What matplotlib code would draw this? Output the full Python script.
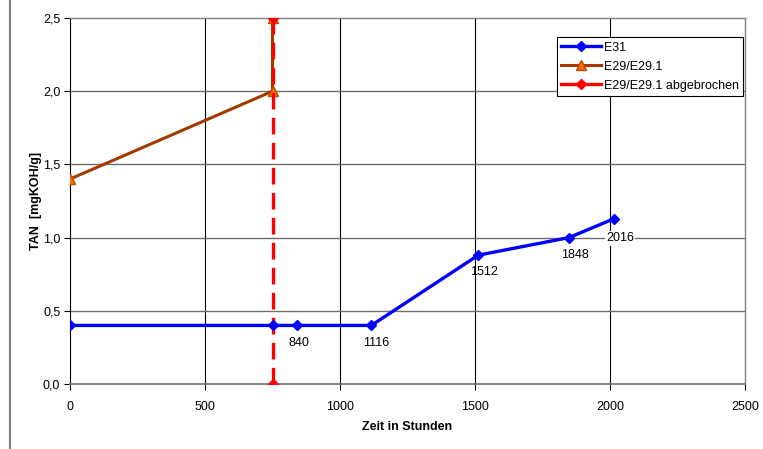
import matplotlib
matplotlib.use("Agg")
import matplotlib.pyplot as plt
from matplotlib.lines import Line2D

plt.rcParams['font.family'] = ['Liberation Sans', 'DejaVu Sans']

# Data
e31_x = [0, 750, 840, 1116, 1512, 1848, 2016]
e31_y = [0.4, 0.4, 0.4, 0.4, 0.88, 1.0, 1.13]
e29_x = [0, 750, 750]
e29_y = [1.4, 2.0, 2.5]
abg_x = [750, 750]
abg_y = [0.0, 2.5]
label_pts = [840, 1116, 1512, 1848, 2016]
x_ticks = [0, 500, 1000, 1500, 2000, 2500]
y_ticks = [0.0, 0.5, 1.0, 1.5, 2.0, 2.5]
y_ticklabels = ["0,0", "0,5", "1,0", "1,5", "2,0", "2,5"]

fig = plt.figure(figsize=(7.63, 4.49), dpi=100)
ax = fig.add_axes([70/763, 65/449, 675/763, 366/449])

ax.set_xlim(0, 2500)
ax.set_ylim(0, 2.5)
ax.set_xticks(x_ticks)
ax.set_xticklabels([str(t) for t in x_ticks])
ax.set_yticks(y_ticks)
ax.set_yticklabels(y_ticklabels)

# grid
for xt in x_ticks[1:-1]:
    ax.axvline(xt, color='black', lw=0.8, zorder=1)
for yt in y_ticks[1:-1]:
    ax.axhline(yt, color='#6e6e6e', lw=1.0, zorder=1)

for s in ['top', 'right']:
    ax.spines[s].set_color('#808080')
    ax.spines[s].set_linewidth(1.0)
ax.spines['left'].set_color('black')
ax.spines['bottom'].set_color('#6e6e6e')
ax.spines['bottom'].set_linewidth(1.2)
ax.tick_params(axis='both', direction='out', length=4, width=0.8, labelsize=9, colors='black')
ax.tick_params(axis='x', pad=8)
ax.tick_params(axis='y', pad=3)

ax.plot(e29_x, e29_y, color='#a33a00', lw=2.2, marker='^', markersize=7,
        markerfacecolor='#ff6a00', markeredgecolor='#c04a00', zorder=3,
        label='E29/E29.1')
ax.plot(abg_x, abg_y, color='#ff0000', lw=2.4, ls=(0, (5, 2.5)), marker='D', markersize=5,
        markerfacecolor='#ff0000', markeredgecolor='#ff0000', zorder=4,
        label='E29/E29.1 abgebrochen')
ax.plot(e31_x, e31_y, color='#0000ff', lw=2.4, marker='D', markersize=5,
        markerfacecolor='#0000ff', markeredgecolor='#0000ff', zorder=5,
        label='E31')

for xv, yv in zip(e31_x, e31_y):
    if xv in label_pts:
        bg = dict(facecolor='white', edgecolor='none', pad=1) if xv == 2016 else None
        ax.annotate(str(xv), (xv, yv), xytext=(-6 if xv != 2016 else -6, -8 if xv != 2016 else -10),
                    textcoords='offset points', ha='left', va='top', fontsize=9,
                    bbox=bg, zorder=6)

ax.set_xlabel('Zeit in Stunden', fontsize=9, fontweight='bold', labelpad=6)
ax.set_ylabel('TAN  [mgKOH/g]', fontsize=9, fontweight='bold', labelpad=1)

handles = [
    Line2D([], [], color='#0000ff', lw=2.4, marker='D', markersize=5),
    Line2D([], [], color='#a33a00', lw=2.2, marker='^', markersize=7,
           markerfacecolor='#ff6a00', markeredgecolor='#c04a00'),
    Line2D([], [], color='#ff0000', lw=2.4, marker='D', markersize=5),
]
leg = ax.legend(handles, ['E31', 'E29/E29.1', 'E29/E29.1 abgebrochen'],
                loc='upper right', bbox_to_anchor=(0.997, 0.947), fontsize=9,
                frameon=True, fancybox=False, edgecolor='black', framealpha=1,
                borderpad=0.35, labelspacing=0.55, handlelength=3.2, handletextpad=0.2,
                borderaxespad=0)
leg.get_frame().set_linewidth(0.8)
leg.set_zorder(10)

fig.add_artist(Line2D([10/763, 10/763], [0, 1], color='#808080', lw=1.5))

fig.savefig('out.png', dpi=100)
